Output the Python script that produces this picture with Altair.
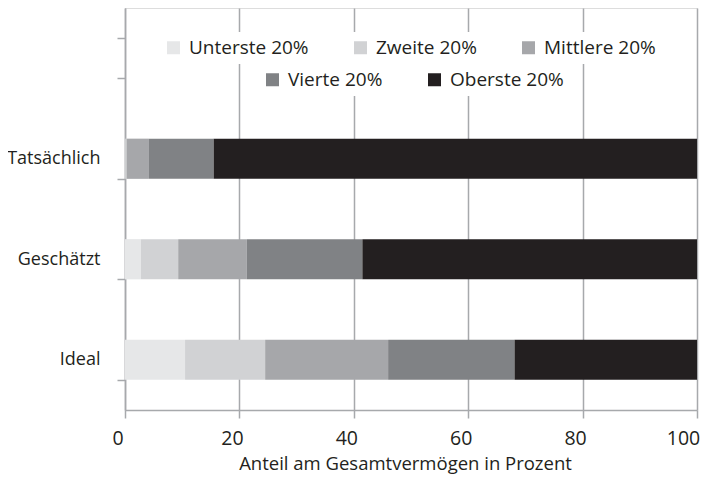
import altair as alt
import pandas as pd

categories = ["Tatsächlich", "Geschätzt", "Ideal"]
groups = ["Unterste 20%", "Zweite 20%", "Mittlere 20%", "Vierte 20%", "Oberste 20%"]
colors = ["#e6e7e8", "#d1d2d4", "#a6a7aa", "#808285", "#231f20"]

values = {
    "Tatsächlich": [0.1, 0.2, 3.8, 11.4, 84.5],
    "Geschätzt": [2.8, 6.5, 12.0, 20.2, 58.5],
    "Ideal": [10.5, 14.0, 21.5, 22.1, 31.9],
}

rows = []
for cat in categories:
    cum = 0.0
    for g, v in zip(groups, values[cat]):
        rows.append({"Kategorie": cat, "Gruppe": g, "Wert": v, "start": cum, "end": cum + v})
        cum += v
df = pd.DataFrame(rows)

y_domain = [" "] + categories
FONT = "Open Sans"
TXT = "#231f20"
GRID = "#a7a9ac"

x_enc = alt.X("start:Q", scale=alt.Scale(domain=[0, 100], nice=False),
              axis=alt.Axis(values=[0, 20, 40, 60, 80, 100], title="Anteil am Gesamtvermögen in Prozent",
                            grid=True, gridColor=GRID, gridWidth=1.5,
                            domainColor=GRID, domainWidth=1.5, tickColor=GRID, tickWidth=1.5, tickSize=8,
                            labelFont=FONT, labelFontSize=19.5, labelColor=TXT, labelPadding=11,
                            labelOffset={"condition": {"test": "datum.value == 100", "value": -14}, "value": -7.5},
                            titleFont=FONT, titleFontSize=18.5, titleFontWeight="normal", titleColor=TXT,
                            titlePadding=7, titleX=280, labelFlush=False))
y_enc = alt.Y("Kategorie:N", scale=alt.Scale(domain=y_domain, paddingInner=0.6, paddingOuter=0.3),
              axis=alt.Axis(title=None, tickBand="extent", grid=False, domainColor=GRID, domainWidth=1.5,
                            tickColor=GRID, tickWidth=1.5, tickSize=8,
                            labelFont=FONT, labelFontSize=18, labelColor=TXT, labelPadding=17))

def legend(x, y):
    return alt.Legend(title=None, orient="none", legendX=x, legendY=y, direction="horizontal",
                      symbolType="square", symbolSize=169, symbolStrokeWidth=0, symbolOpacity=1,
                      labelFont=FONT, labelFontSize=19, labelColor=TXT, labelOffset=6,
                      columnPadding=42, fillColor="white", padding=6)

base = alt.Chart(df)
layer1 = base.transform_filter(
    alt.FieldOneOfPredicate(field="Gruppe", oneOf=groups[:3])
).mark_bar().encode(
    x=x_enc, x2="end:Q", y=y_enc,
    color=alt.Color("Gruppe:N", scale=alt.Scale(domain=groups[:3], range=colors[:3]), legend=legend(33, 24)),
)
layer2 = base.transform_filter(
    alt.FieldOneOfPredicate(field="Gruppe", oneOf=groups[3:])
).mark_bar().encode(
    x=x_enc, x2="end:Q", y=y_enc,
    color=alt.Color("Gruppe:N", scale=alt.Scale(domain=groups[3:], range=colors[3:]), legend=legend(132, 56)),
)

chart = alt.layer(layer1, layer2).resolve_scale(color="independent").properties(
    width=572, height=402,
    autosize=alt.AutoSizeParams(type="none"),
    padding={"left": 117, "top": 0, "right": 4, "bottom": 66},
).configure_view(stroke=None).configure(background="white")

chart.save("out.html", embed_options={"renderer": "svg", "actions": False})
